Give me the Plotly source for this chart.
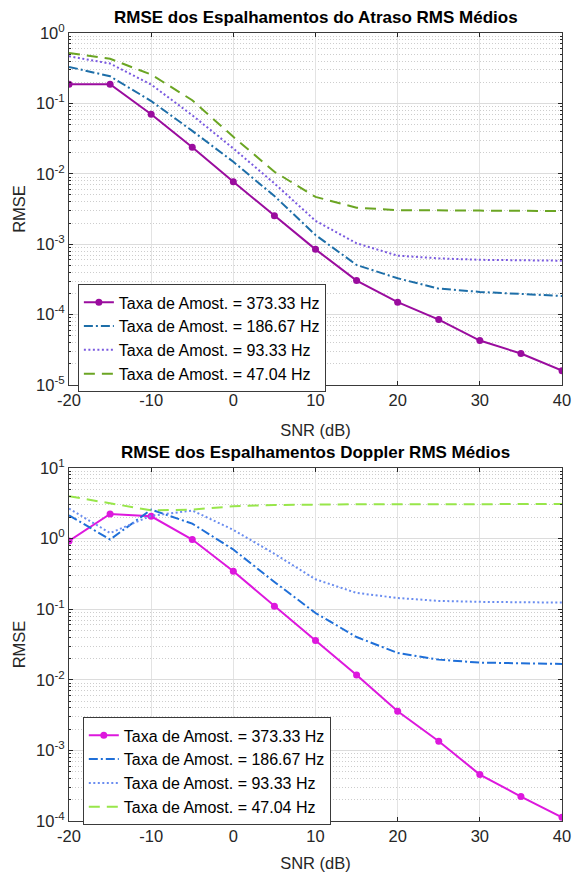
import plotly.graph_objects as go

# SNR grid (dB)
snr = [-20, -15, -10, -5, 0, 5, 10, 15, 20, 25, 30, 35, 40]

legend_names = [
    "Taxa de Amost. = 373.33 Hz",
    "Taxa de Amost. = 186.67 Hz",
    "Taxa de Amost. = 93.33 Hz",
    "Taxa de Amost. = 47.04 Hz",
]

# RMSE of the mean RMS delay spread
atraso_373 = [0.187, 0.187, 0.0703, 0.0239, 0.0077, 0.00254, 0.000845, 0.000304,
              0.00015, 8.5e-5, 4.28e-5, 2.8e-5, 1.6e-5]
atraso_187 = [0.33, 0.243, 0.108, 0.0407, 0.0148, 0.00483, 0.00135, 0.000507,
              0.000328, 0.000234, 0.00021, 0.000195, 0.000184]
atraso_93 = [0.467, 0.368, 0.185, 0.068, 0.0229, 0.0073, 0.00215, 0.00103,
             0.000687, 0.00063, 0.0006, 0.00059, 0.000583]
atraso_47 = [0.52, 0.43, 0.257, 0.111, 0.0335, 0.0107, 0.0047, 0.0033,
             0.00305, 0.003, 0.003, 0.00298, 0.00295]

# RMSE of the mean RMS Doppler spread
doppler_373 = [0.925, 2.23, 2.07, 0.97, 0.344, 0.11, 0.0359, 0.0117,
               0.00358, 0.00135, 0.000454, 0.000222, 0.000113]
doppler_187 = [2.14, 0.97, 2.57, 1.63, 0.7, 0.243, 0.0883, 0.0403,
               0.024, 0.0193, 0.0175, 0.0171, 0.0168]
doppler_93 = [2.66, 1.2, 2.1, 2.5, 1.33, 0.61, 0.265, 0.17,
              0.144, 0.131, 0.127, 0.125, 0.124]
doppler_47 = [3.98, 3.13, 2.51, 2.57, 2.87, 2.99, 3.06, 3.06,
              3.07, 3.07, 3.07, 3.08, 3.08]

x_ticks = [-20, -10, 0, 10, 20, 30, 40]
top_decades = [-5, -4, -3, -2, -1, 0]
bottom_decades = [-4, -3, -2, -1, 0, 1]

FONT = "Liberation Sans, Arial, Helvetica, sans-serif"
TXT = "#262626"

top_colors = ["#9A0C9E", "#1D6EA8", "#7A5AE0", "#6BA523"]
bottom_colors = ["#DD18DD", "#1F6FD8", "#6A8DF0", "#98E64A"]
dashes = ["solid", "9px,3px,2px,3px", "2px,2.5px", "11px,7px"]

fig = go.Figure()

top_series = [atraso_373, atraso_187, atraso_93, atraso_47]
bottom_series = [doppler_373, doppler_187, doppler_93, doppler_47]

for i, (vals, name) in enumerate(zip(top_series, legend_names)):
    fig.add_trace(go.Scatter(
        x=snr, y=vals, name=name, xaxis="x", yaxis="y",
        mode="lines+markers" if i == 0 else "lines",
        line=dict(color=top_colors[i], width=2, dash=dashes[i]),
        marker=dict(size=7, color=top_colors[i]),
        legend="legend",
    ))

for i, (vals, name) in enumerate(zip(bottom_series, legend_names)):
    fig.add_trace(go.Scatter(
        x=snr, y=vals, name=name, xaxis="x2", yaxis="y2",
        mode="lines+markers" if i == 0 else "lines",
        line=dict(color=bottom_colors[i], width=2, dash=dashes[i]),
        marker=dict(size=7, color=bottom_colors[i]),
        legend="legend2",
    ))


def x_axis(domain_anchor):
    return dict(
        anchor=domain_anchor, domain=[0, 1], range=[-20, 40], automargin=False,
        tickvals=x_ticks, ticktext=[str(v) for v in x_ticks],
        ticks="inside", ticklen=4, tickcolor=TXT,
        showline=True, linecolor="#3a3a3a", linewidth=1, mirror="ticks",
        showgrid=True, gridcolor="#e3e3e3", gridwidth=1,
        zeroline=False,
        tickfont=dict(family=FONT, size=16.5, color=TXT),
        title=dict(text="SNR (dB)", font=dict(family=FONT, size=16.5, color=TXT), standoff=16),
    )


def y_axis(domain, decades, anchor):
    return dict(
        anchor=anchor, domain=domain, type="log", automargin=False,
        range=[decades[0], decades[-1]],
        tickvals=[10.0 ** d for d in decades],
        ticktext=["10<sup>%d</sup>" % d for d in decades],
        ticks="inside", ticklen=4, tickcolor=TXT,
        showline=True, linecolor="#3a3a3a", linewidth=1, mirror="ticks",
        showgrid=True, gridcolor="#dcdcdc", gridwidth=1,
        minor=dict(dtick="D1", ticks="inside", ticklen=2, tickcolor=TXT,
                   showgrid=True, gridcolor="#cdcdcd", griddash="1px,2px", gridwidth=1),
        zeroline=False,
        tickfont=dict(family=FONT, size=16.5, color=TXT),
        title=dict(text="RMSE", font=dict(family=FONT, size=16.5, color=TXT), standoff=6),
    )


top_dom = [0.5533, 1.0]
bot_dom = [0.0, 0.448]

legend_style = dict(
    bgcolor="white", bordercolor="#3a3a3a", borderwidth=1,
    font=dict(family=FONT, size=16, color="black"),
    xanchor="left", yanchor="top", itemwidth=30,
    tracegroupgap=0,
)

fig.update_layout(
    width=573, height=872,
    margin=dict(l=69, r=11, t=33, b=51, autoexpand=False),
    paper_bgcolor="white", plot_bgcolor="white",
    font=dict(family=FONT, color=TXT),
    xaxis=x_axis("y"),
    yaxis=y_axis(top_dom, top_decades, "x"),
    xaxis2=x_axis("y2"),
    yaxis2=y_axis(bot_dom, bottom_decades, "x2"),
    legend=dict(x=0.018, y=0.681, **legend_style),
    legend2=dict(x=0.028, y=0.1315, **legend_style),
    annotations=[
        dict(text="<b>RMSE dos Espalhamentos do Atraso RMS Médios</b>",
             x=0.5, y=top_dom[1], xref="paper", yref="paper",
             xanchor="center", yanchor="bottom", yshift=4, showarrow=False,
             font=dict(family=FONT, size=17, color="black")),
        dict(text="<b>RMSE dos Espalhamentos Doppler RMS Médios</b>",
             x=0.5, y=bot_dom[1], xref="paper", yref="paper",
             xanchor="center", yanchor="bottom", yshift=4, showarrow=False,
             font=dict(family=FONT, size=17, color="black")),
    ],
    showlegend=True,
)

fig.write_html("out.html")
